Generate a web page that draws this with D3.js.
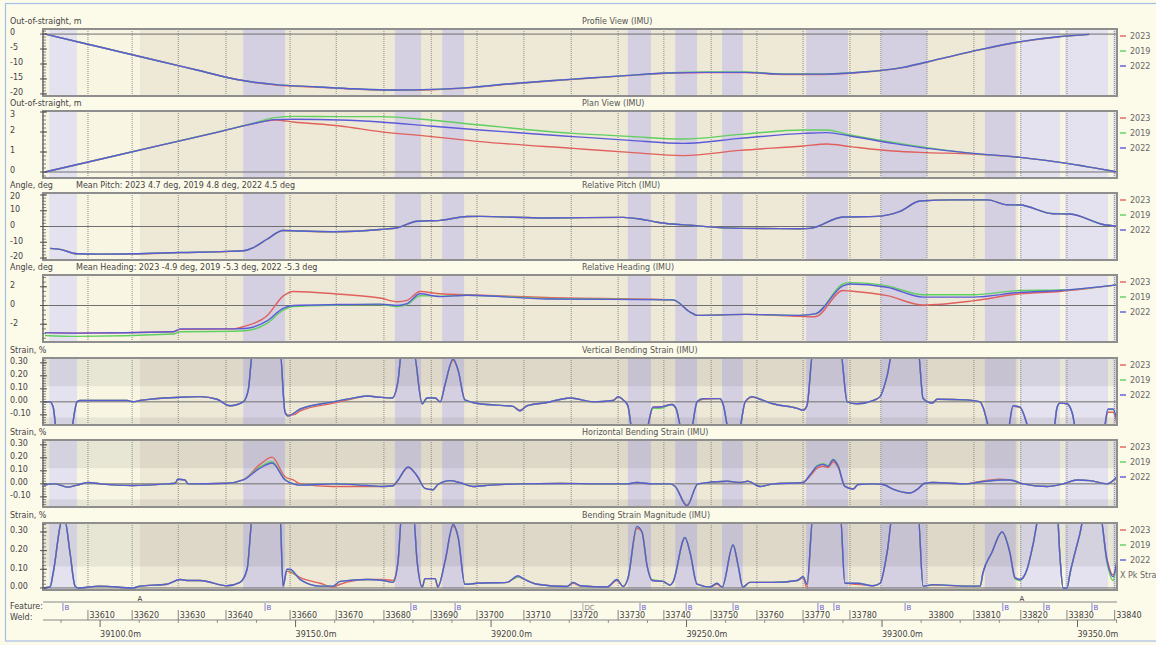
<!DOCTYPE html>
<html>
<head>
<meta charset="utf-8">
<script src="https://cdn.jsdelivr.net/npm/d3@7"></script>
<style>
  body { margin: 0; background: #fcfae9; }
  svg text { font-family: "DejaVu Sans", Verdana, sans-serif; }
</style>
</head>
<body>
<div id="chart"></div>
<script>
// ---- data (distances in m along the line) ----
const seriesNames = ["2023", "2019", "2022"];

const profileDist = [39086, 39095, 39105, 39115, 39125, 39135, 39140, 39145, 39155, 39165, 39175, 39185, 39195, 39205, 39215, 39225, 39235, 39245, 39255, 39265, 39275, 39285, 39295, 39305, 39315, 39325, 39335, 39345, 39353];
const profile2023 = [0, -2.8, -5.9, -9.0, -12.1, -15.2, -16.3, -17.0, -17.7, -18.4, -18.8, -18.6, -17.9, -16.7, -15.7, -14.8, -13.9, -13.1, -12.9, -12.9, -13.5, -13.5, -12.8, -11.3, -8.3, -5.3, -2.7, -1.0, -0.1];
const profile2019 = [0, -2.8, -5.9, -9.0, -12.1, -15.2, -16.2, -16.9, -17.6, -18.3, -18.7, -18.5, -17.8, -16.6, -15.6, -14.7, -13.8, -13.0, -12.7, -12.7, -13.3, -13.3, -12.7, -11.2, -8.2, -5.2, -2.6, -0.9, -0.1];
const profile2022 = [0, -2.8, -5.9, -9.0, -12.1, -15.2, -16.2, -16.9, -17.6, -18.3, -18.7, -18.5, -17.8, -16.6, -15.6, -14.7, -13.8, -13.0, -12.8, -12.8, -13.4, -13.4, -12.7, -11.2, -8.2, -5.2, -2.6, -0.9, -0.1];

const planDist = [39085.9, 39100, 39115.3, 39130.7, 39138.4, 39144.8, 39149.4, 39161.4, 39171.6, 39184.4, 39197.2, 39221.0, 39235.5, 39249.1, 39263.7, 39279.8, 39285.9, 39291.8, 39302.8, 39311.5, 39323.3, 39335.3, 39347.3, 39360.1];
const plan2023 = [0, 0.64, 1.33, 2.02, 2.38, 2.6, 2.5, 2.3, 2.02, 1.78, 1.52, 1.18, 0.98, 0.82, 1.08, 1.3, 1.4, 1.27, 1.05, 0.97, 0.9, 0.73, 0.43, 0];
const plan2019 = [0, 0.64, 1.33, 2.03, 2.4, 2.72, 2.78, 2.77, 2.77, 2.6, 2.35, 1.93, 1.78, 1.65, 1.88, 2.1, 2.1, 1.85, 1.48, 1.22, 0.93, 0.73, 0.43, 0];
const plan2022 = [0, 0.64, 1.33, 2.02, 2.38, 2.62, 2.64, 2.6, 2.5, 2.3, 2.1, 1.77, 1.58, 1.43, 1.68, 1.93, 1.97, 1.8, 1.43, 1.18, 0.93, 0.73, 0.43, 0];

const pitchDist = [39087.2, 39089.8, 39094.1, 39100, 39108.4, 39120.5, 39132.5, 39137.1, 39139.1, 39142.7, 39146.8, 39151.2, 39159.6, 39171.6, 39176.0, 39181.1, 39187.0, 39193.9, 39197.2, 39214.3, 39233.8, 39238.1, 39242.5, 39251.7, 39263.7, 39279.0, 39281.6, 39290.0, 39298.7, 39304.6, 39309.7, 39318.2, 39326.9, 39332.0, 39335.3, 39343.7, 39348.1, 39356.5, 39360.1];
const pitch2023 = [-13.9, -14.5, -17.3, -17.6, -17.4, -16.6, -15.9, -15.2, -13.5, -8.1, -2.5, -2.9, -3.4, -1.9, -0.8, 3.3, 3.9, 6.3, 6.4, 5.4, 5.8, 4.8, 2.7, 0.6, -1.2, -1.4, -1.2, 6.0, 6.4, 9.6, 16.2, 16.9, 16.9, 13.8, 13.6, 8.1, 7.9, 1.3, 0.2];
const pitch2019 = [-13.9, -14.5, -17.3, -17.5, -17.3, -16.5, -15.8, -15.2, -13.5, -8.1, -2.5, -2.9, -3.3, -1.9, -0.8, 3.3, 3.9, 6.3, 6.4, 5.4, 5.8, 4.8, 2.7, 0.6, -1.2, -1.4, -1.2, 6.0, 6.4, 9.6, 16.2, 16.9, 16.9, 13.8, 13.6, 8.2, 8.0, 1.3, 0.2];
const pitch2022 = [-13.9, -14.5, -17.3, -17.5, -17.3, -16.5, -15.8, -15.2, -13.5, -8.1, -2.5, -2.9, -3.3, -1.9, -0.8, 3.3, 3.9, 6.3, 6.4, 5.4, 5.8, 4.8, 2.7, 0.6, -1.2, -1.4, -1.2, 6.0, 6.4, 9.6, 16.2, 16.9, 16.9, 13.8, 13.6, 8.1, 7.9, 1.3, 0.2];

const headingDist = [39085.9, 39094.1, 39118.7, 39120.5, 39134.0, 39137.1, 39142.7, 39146.8, 39149.4, 39161.4, 39171.6, 39176.0, 39178.5, 39181.8, 39187.0, 39193.9, 39214.3, 39246.5, 39250.9, 39252.7, 39265.5, 39279.0, 39282.9, 39290.0, 39291.8, 39301.3, 39310.5, 39323.3, 39335.3, 39345.5, 39360.1];
const heading2023 = [-2.9, -2.95, -2.8, -2.55, -2.5, -2.2, -1.1, 1.0, 1.5, 1.2, 0.8, 0.4, 0.55, 1.5, 1.25, 1.15, 0.85, 0.6, -0.7, -1.05, -0.95, -1.15, -1.2, 1.6, 1.55, 1.05, 0.05, 0.5, 1.25, 1.5, 2.2];
const heading2019 = [-3.2, -3.3, -3.05, -2.8, -2.75, -2.7, -1.9, -0.5, -0.1, 0.05, 0.1, -0.1, 0.1, 1.05, 1.0, 1.1, 0.75, 0.62, -0.7, -1.05, -0.95, -1.05, -0.9, 2.3, 2.45, 2.1, 1.15, 1.15, 1.6, 1.65, 2.2];
const heading2022 = [-2.9, -2.95, -2.8, -2.5, -2.5, -2.45, -1.65, -0.3, 0, 0.1, 0.15, 0, 0.2, 1.25, 0.95, 1.1, 0.7, 0.6, -0.7, -1.05, -0.95, -1.05, -0.9, 2.1, 2.3, 1.95, 0.9, 0.9, 1.4, 1.6, 2.2];

const vertDist = [39085.4, 39087.2, 39088.0, 39089.0, 39092.3, 39094.1, 39094.9, 39106.9, 39108.4, 39110.2,
  39120.5, 39125.6, 39129.9, 39133.2, 39136.6, 39137.9, 39139.1, 39146.0, 39147.3, 39148.1,
  39149.4, 39151.2, 39159.6, 39164.0, 39168.3, 39171.6, 39174.7, 39176.2, 39177.2, 39180.1,
  39182.4, 39183.6, 39185.7, 39187.0, 39188.2, 39190.3, 39191.6, 39193.3, 39197.2, 39205.6,
  39207.4, 39209.2, 39214.3, 39220.2, 39226.1, 39231.2, 39232.5, 39233.8, 39235.0, 39236.3,
  39239.4, 39241.4, 39243.2, 39246.3, 39247.3, 39249.1, 39250.9, 39252.7, 39254.2, 39258.6,
  39259.3, 39261.1, 39263.2, 39265.0, 39266.8, 39268.8, 39272.1, 39278.3, 39279.8, 39280.8,
  39282.4, 39289.3, 39291.1, 39293.6, 39297.7, 39299.5, 39301.3, 39302.8, 39309.2, 39310.5,
  39312.8, 39314.1, 39321.7, 39325.1, 39325.8, 39328.1, 39332.0, 39333.5, 39335.3, 39338.4,
  39343.7, 39344.8, 39345.5, 39347.3, 39348.6, 39349.9, 39356.5, 39357.8, 39359.1, 39360.1];
const vert2023 = [0, 0, -0.04, -0.25, -0.25, 0, 0.01, 0.01, 0, 0.01,
  0.035, 0.04, 0.02, -0.03, 0, 0.09, 0.4, 0.4, -0.08, -0.1,
  -0.1, -0.07, -0.01, 0.02, 0.045, 0.035, 0.03, 0.16, 0.4, 0.4,
  -0.015, 0.03, 0.03, 0, 0.13, 0.32, 0.24, 0.015, -0.015, -0.035,
  -0.065, -0.03, -0.005, 0.03, 0, 0.01, 0.035, 0.015, -0.03, -0.25,
  -0.25, -0.045, -0.04, -0.02, -0.05, -0.25, -0.25, 0, 0.02, 0.025,
  -0.015, -0.25, -0.25, 0, 0.035, 0.02, -0.015, -0.05, -0.065, -0.03,
  0.4, 0.4, 0, -0.015, 0.01, 0.04, 0.2, 0.4, 0.4, 0.025,
  -0.01, 0.02, 0.015, 0, -0.04, -0.25, -0.25, -0.035, -0.045, -0.25,
  -0.25, -0.04, -0.01, -0.015, -0.08, -0.25, -0.25, -0.08, -0.08, -0.17];
const vert2019 = [0, 0, -0.04, -0.25, -0.25, 0, 0.01, 0.01, 0, 0.01,
  0.035, 0.04, 0.02, -0.03, 0, 0.09, 0.4, 0.4, -0.08, -0.11,
  -0.09, -0.055, 0, 0.025, 0.045, 0.035, 0.03, 0.16, 0.4, 0.4,
  -0.015, 0.03, 0.03, 0, 0.13, 0.33, 0.24, 0.015, -0.015, -0.035,
  -0.07, -0.03, -0.005, 0.03, 0, 0.01, 0.04, 0.015, -0.03, -0.25,
  -0.25, -0.05, -0.05, -0.02, -0.05, -0.25, -0.25, 0, 0.025, 0.025,
  -0.015, -0.25, -0.25, 0, 0.04, 0.02, -0.015, -0.05, -0.065, -0.03,
  0.4, 0.4, 0, -0.015, 0.01, 0.04, 0.2, 0.4, 0.4, 0.03,
  -0.01, 0.02, 0.015, 0, -0.04, -0.25, -0.25, -0.03, -0.04, -0.25,
  -0.25, -0.04, -0.01, -0.015, -0.08, -0.25, -0.25, -0.06, -0.06, -0.15];
const vert2022 = [0, 0, -0.04, -0.25, -0.25, 0, 0.01, 0.01, 0, 0.01,
  0.035, 0.04, 0.02, -0.03, 0, 0.09, 0.4, 0.4, -0.08, -0.11,
  -0.09, -0.055, 0, 0.025, 0.045, 0.035, 0.03, 0.16, 0.4, 0.4,
  -0.015, 0.03, 0.03, 0, 0.13, 0.33, 0.24, 0.015, -0.015, -0.035,
  -0.07, -0.03, -0.005, 0.03, 0, 0.01, 0.04, 0.015, -0.03, -0.25,
  -0.25, -0.04, -0.04, -0.02, -0.05, -0.25, -0.25, 0, 0.025, 0.025,
  -0.015, -0.25, -0.25, 0, 0.04, 0.02, -0.015, -0.05, -0.065, -0.03,
  0.4, 0.4, 0, -0.015, 0.01, 0.04, 0.2, 0.4, 0.4, 0.025,
  -0.01, 0.02, 0.015, 0, -0.04, -0.25, -0.25, -0.03, -0.04, -0.25,
  -0.25, -0.04, -0.01, -0.015, -0.08, -0.25, -0.25, -0.055, -0.055, -0.15];

const horizDist = [39085.4, 39088.5, 39091.6, 39094.1, 39096.9, 39100.0, 39108.4, 39117.1, 39119.2, 39119.9,
  39121.7, 39122.5, 39132.5, 39136.6, 39140.9, 39144.0, 39147.3, 39149.4, 39151.2, 39159.6,
  39168.3, 39172.4, 39174.9, 39176.0, 39178.8, 39181.1, 39183.1, 39185.2, 39186.4, 39189.5,
  39192.1, 39195.4, 39199.7, 39207.4, 39217.6, 39227.9, 39234.8, 39237.3, 39241.4, 39245.8,
  39247.1, 39250.1, 39252.9, 39260.4, 39263.7, 39265.7, 39268.8, 39272.1, 39279.8, 39281.6,
  39283.4, 39284.9, 39286.2, 39287.5, 39288.8, 39290.5, 39292.6, 39293.9, 39297.7, 39300.3,
  39302.8, 39307.2, 39308.9, 39311.0, 39313.0, 39321.7, 39324.3, 39330.2, 39332.7, 39336.1,
  39342.2, 39346.3, 39349.9, 39353.2, 39357.5, 39360.1];
const horiz2023 = [-0.01, 0, -0.025, -0.01, 0.01, 0, -0.013, 0, 0.005, 0.035,
  0.03, 0, 0.005, 0.03, 0.15, 0.205, 0.055, 0.03, 0, -0.02,
  -0.02, -0.02, -0.015, 0.02, 0.125, 0.06, -0.035, -0.045, -0.005, 0.025,
  0.008, -0.02, -0.01, 0, 0.003, 0, 0, 0.01, 0, 0,
  -0.02, -0.165, 0, 0.02, 0.01, 0.02, -0.02, 0, 0.01, 0.06,
  0.12, 0.135, 0.125, 0.17, 0.125, -0.02, -0.04, -0.005, 0, -0.005,
  -0.04, -0.07, -0.045, 0.005, 0.01, 0, 0.015, 0.035, 0.03, 0,
  -0.02, 0, 0.03, 0.025, 0, 0.045];
const horiz2019 = [-0.01, 0, -0.025, -0.01, 0.01, 0, -0.013, 0, 0.005, 0.035,
  0.03, 0, 0.005, 0.03, 0.13, 0.17, 0.035, 0, -0.01, 0,
  -0.013, -0.02, -0.015, 0.02, 0.13, 0.06, -0.035, -0.045, -0.005, 0.025,
  0.008, -0.02, -0.01, 0, 0.003, 0, 0, 0.01, 0, 0,
  -0.02, -0.17, 0, 0.02, 0.01, 0.02, -0.02, 0, 0.01, 0.07,
  0.14, 0.155, 0.14, 0.19, 0.14, -0.02, -0.04, -0.005, 0, -0.005,
  -0.04, -0.07, -0.045, 0.005, 0.01, 0, 0.01, 0.03, 0.03, 0,
  -0.02, 0, 0.03, 0.025, 0, 0.05];
const horiz2022 = [-0.01, 0, -0.025, -0.01, 0.01, 0, -0.013, 0, 0.005, 0.035,
  0.03, 0, 0.005, 0.03, 0.12, 0.16, 0.03, 0, -0.01, 0,
  -0.013, -0.02, -0.015, 0.02, 0.13, 0.06, -0.035, -0.045, -0.005, 0.025,
  0.008, -0.02, -0.01, 0, 0.003, 0, 0, 0.01, 0, 0,
  -0.02, -0.17, 0, 0.02, 0.01, 0.02, -0.02, 0, 0.01, 0.07,
  0.135, 0.15, 0.135, 0.185, 0.135, -0.02, -0.04, -0.005, 0, -0.005,
  -0.04, -0.07, -0.045, 0.005, 0.01, 0, 0.01, 0.03, 0.03, 0,
  -0.02, 0, 0.03, 0.025, 0, 0.055];

const magDist = [39085.4, 39087.2, 39088.0, 39090.3, 39091.0, 39092.3, 39093.6, 39094.4, 39100.0, 39108.4,
  39110.2, 39117.1, 39120.5, 39122.2, 39125.6, 39132.5, 39135.8, 39137.6, 39139.1, 39146.0,
  39146.8, 39147.8, 39148.6, 39151.2, 39156.3, 39159.6, 39161.4, 39168.3, 39172.4, 39174.9,
  39176.2, 39177.2, 39180.1, 39181.1, 39182.4, 39183.1, 39185.7, 39186.4, 39188.2, 39190.3,
  39191.6, 39193.3, 39196.4, 39204.1, 39206.9, 39208.2, 39211.8, 39219.4, 39221.0, 39222.8,
  39229.7, 39232.2, 39233.8, 39235.0, 39237.3, 39238.6, 39239.9, 39241.2, 39244.0, 39245.8,
  39246.5, 39249.6, 39250.9, 39252.7, 39256.0, 39257.8, 39259.1, 39261.9, 39263.2, 39264.4,
  39266.2, 39272.1, 39278.3, 39279.8, 39280.8, 39282.4, 39289.3, 39290.5, 39293.6, 39297.7,
  39299.5, 39301.3, 39302.8, 39309.2, 39310.5, 39313.0, 39321.7, 39325.1, 39325.8, 39328.1,
  39330.7, 39332.7, 39334.0, 39335.3, 39337.1, 39338.6, 39340.4, 39344.8, 39345.5, 39346.3,
  39347.3, 39348.1, 39350.6, 39351.9, 39355.7, 39357.5, 39359.1, 39360.1];
const mag2023 = [0, 0.005, 0.08, 0.36, 0.36, 0.19, 0.01, 0, 0.01, 0,
  0.01, 0.02, 0.045, 0.04, 0.04, 0.012, 0.03, 0.1, 0.4, 0.4,
  0.01, 0.09, 0.085, 0.055, 0.025, 0.005, 0.02, 0.045, 0.045, 0.04,
  0.14, 0.4, 0.4, 0.14, 0.005, 0.05, 0.05, 0.005, 0.14, 0.33,
  0.27, 0.02, 0.025, 0.03, 0.06, 0.05, 0.02, 0.008, 0.025, 0.012,
  0.005, 0.04, 0.008, 0.05, 0.32, 0.3, 0.12, 0.04, 0.035, 0.015,
  0.03, 0.27, 0.19, 0.02, 0.005, 0.02, 0.005, 0.23, 0.12, 0.005,
  0.03, 0.03, 0.04, 0.055, 0.0, 0.4, 0.4, 0.025, 0.02, 0.012,
  0.025, 0.19, 0.4, 0.4, 0.01, 0.015, 0.01, 0.01, 0.08, 0.19,
  0.3, 0.19, 0.055, 0.045, 0.1, 0.23, 0.4, 0.4, 0.17, 0,
  0, 0.08, 0.29, 0.4, 0.4, 0.16, 0.07, 0.14];
const mag2019 = [0, 0.005, 0.08, 0.36, 0.36, 0.19, 0.01, 0, 0.01, 0,
  0.01, 0.02, 0.045, 0.04, 0.04, 0.012, 0.03, 0.1, 0.4, 0.4,
  0.01, 0.1, 0.095, 0.045, 0.01, 0.01, 0.035, 0.045, 0.04, 0.03,
  0.14, 0.4, 0.4, 0.14, 0.005, 0.05, 0.05, 0.005, 0.14, 0.34,
  0.27, 0.02, 0.025, 0.03, 0.06, 0.05, 0.02, 0.008, 0.03, 0.012,
  0.005, 0.045, 0.008, 0.05, 0.33, 0.3, 0.12, 0.045, 0.035, 0.015,
  0.03, 0.27, 0.19, 0.02, 0.005, 0.025, 0.005, 0.23, 0.12, 0.005,
  0.03, 0.03, 0.04, 0.06, 0.02, 0.4, 0.4, 0.025, 0.025, 0.012,
  0.025, 0.19, 0.4, 0.4, 0.01, 0.018, 0.01, 0.01, 0.08, 0.19,
  0.3, 0.19, 0.05, 0.04, 0.1, 0.23, 0.4, 0.4, 0.17, 0,
  0, 0.08, 0.29, 0.4, 0.4, 0.14, 0.04, 0.15];
const mag2022 = [0, 0.005, 0.08, 0.36, 0.36, 0.19, 0.01, 0, 0.01, 0,
  0.01, 0.02, 0.045, 0.04, 0.04, 0.012, 0.03, 0.1, 0.4, 0.4,
  0.01, 0.1, 0.1, 0.045, 0.01, 0.01, 0.035, 0.045, 0.04, 0.03,
  0.14, 0.4, 0.4, 0.14, 0.005, 0.05, 0.05, 0.005, 0.14, 0.34,
  0.27, 0.02, 0.025, 0.03, 0.065, 0.05, 0.02, 0.008, 0.03, 0.012,
  0.005, 0.045, 0.008, 0.05, 0.33, 0.3, 0.12, 0.04, 0.035, 0.015,
  0.03, 0.27, 0.19, 0.02, 0.005, 0.025, 0.005, 0.23, 0.12, 0.005,
  0.03, 0.03, 0.04, 0.06, 0.02, 0.4, 0.4, 0.025, 0.025, 0.012,
  0.025, 0.19, 0.4, 0.4, 0.01, 0.018, 0.01, 0.01, 0.08, 0.19,
  0.3, 0.19, 0.055, 0.045, 0.1, 0.23, 0.4, 0.4, 0.17, 0,
  0, 0.08, 0.29, 0.4, 0.4, 0.15, 0.06, 0.15];

// shaded zones along the line
const baseZones = [[39085.4, 39110.2, "pale"], [39110.2, 39334.8, "tan"], [39334.8, 39360.1, "pale"]];
const lightBands = [[39087.0, 39094.1], [39335.3, 39345.5], [39346.8, 39357.8], [39359.1, 39360.1]];
const bendBands = [[39136.6, 39147.3], [39175.4, 39182.1], [39187.5, 39193.1], [39235.0, 39240.9], [39247.1, 39252.7],
  [39259.1, 39264.4], [39280.6, 39291.3], [39299.7, 39311.5], [39326.3, 39334.2]];

// weld / feature axis
const weldNumbers = [33610, 33620, 33630, 33640, 33660, 33670, 33680, 33690, 33700, 33710, 33720, 33730, 33740, 33750, 33760, 33770, 33780, 33790, 33800, 33810, 33820, 33830, 33840];
const weldDist = [39096.9, 39108.2, 39120.0, 39132.2, 39148.6, 39160.4, 39172.6, 39184.7, 39196.4, 39208.4, 39220.5, 39232.5, 39244.2, 39256.3, 39268.0, 39279.8, 39291.8, 39299.7, 39311.5, 39323.5, 39335.5, 39347.3, 39359.5];
const hiddenWelds = [33790];
const featureB = [39090.5, 39142.2, 39179.5, 39190.8, 39238.1, 39249.9, 39261.9, 39283.6, 39287.7, 39305.9, 39330.9, 39341.4, 39353.7];
const featureA = [39110.2, 39335.8];
const featureDC = [39223.5];
const distMajor = [39100, 39150, 39200, 39250, 39300, 39350];

// ---- layout ----
const W = 1156, H = 645;
const plotLeft = 43, plotRight = 1117, panelH = 67;
const panelTops = [29, 111, 193, 275, 358, 440, 523];
const colors = ["#e0605c", "#5fcf5f", "#5b5bd8"];
const zoneFill = { pale: "#f8f6e3", tan: "#eee8d7" };
const intFmt = d => String(d);
const strainFmt = d => d.toFixed(2);

const panels = [
  { yLabel: "Out-of-straight, m", title: "Profile View (IMU)", note: "", domain: [-20.7, 1.7], major: [0, -5, -10, -15, -20], minor: 1, fmt: intFmt, zero: true, dist: profileDist, series: [profile2023, profile2019, profile2022] },
  { yLabel: "Out-of-straight, m", title: "Plan View (IMU)", note: "", domain: [-0.3, 3.05], major: [0, 1, 2, 3], minor: 0.2, fmt: intFmt, zero: true, dist: planDist, series: [plan2023, plan2019, plan2022] },
  { yLabel: "Angle, deg", title: "Relative Pitch (IMU)", note: "Mean Pitch: 2023 4.7 deg, 2019 4.8 deg, 2022 4.5 deg", domain: [-21.25, 21.25], major: [20, 10, 0, -10, -20], minor: 2, fmt: intFmt, zero: true, dist: pitchDist, series: [pitch2023, pitch2019, pitch2022] },
  { yLabel: "Angle, deg", title: "Relative Heading (IMU)", note: "Mean Heading: 2023 -4.9 deg, 2019 -5.3 deg, 2022 -5.3 deg", domain: [-3.9, 3.26], major: [2, 0, -2], minor: 0.5, fmt: intFmt, zero: true, dist: headingDist, series: [heading2023, heading2019, heading2022] },
  { yLabel: "Strain, %", title: "Vertical Bending Strain (IMU)", note: "", domain: [-0.178, 0.337], major: [0.3, 0.2, 0.1, 0, -0.1], minor: 0.02, fmt: strainFmt, zero: true, thr: 0.12, dist: vertDist, series: [vert2023, vert2019, vert2022] },
  { yLabel: "Strain, %", title: "Horizontal Bending Strain (IMU)", note: "", domain: [-0.178, 0.337], major: [0.3, 0.2, 0.1, 0, -0.1], minor: 0.02, fmt: strainFmt, zero: true, thr: 0.12, dist: horizDist, series: [horiz2023, horiz2019, horiz2022] },
  { yLabel: "Strain, %", title: "Bending Strain Magnitude (IMU)", note: "", domain: [-0.011, 0.348], major: [0.3, 0.2, 0.1, 0], minor: 0.02, fmt: strainFmt, zero: true, thr: 0.115, dist: magDist, series: [mag2023, mag2019, mag2022], extraLegend: "X Pk Strain" }
];

const svg = d3.select("#chart").append("svg").attr("width", W).attr("height", H);
svg.append("rect").attr("width", W).attr("height", H).attr("fill", "#fcfae9");
svg.append("rect").attr("x", 5.5).attr("y", 3.5).attr("width", 1170).attr("height", 637.5)
  .attr("fill", "none").attr("stroke", "#a6bfe6").attr("stroke-width", 1.2);

const x = d3.scaleLinear().domain([39085.4, 39360.1]).range([plotLeft, plotRight]);
const defs = svg.append("defs");

panels.forEach((p, i) => {
  const top = panelTops[i];
  const bottom = top + panelH;
  const y = d3.scaleLinear().domain(p.domain).range([bottom, top]);
  const g = svg.append("g");

  defs.append("clipPath").attr("id", "clip" + i).append("rect")
    .attr("x", plotLeft).attr("y", top).attr("width", plotRight - plotLeft).attr("height", panelH);

  // background zones
  g.selectAll(".zone").data(baseZones).join("rect")
    .attr("x", d => x(d[0])).attr("width", d => x(d[1]) - x(d[0]))
    .attr("y", top).attr("height", panelH).attr("fill", d => zoneFill[d[2]]);
  g.selectAll(".lband").data(lightBands).join("rect")
    .attr("x", d => x(d[0])).attr("width", d => x(d[1]) - x(d[0]))
    .attr("y", top).attr("height", panelH).attr("fill", "#e3e2ee");
  g.selectAll(".bband").data(bendBands).join("rect")
    .attr("x", d => x(d[0])).attr("width", d => x(d[1]) - x(d[0]))
    .attr("y", top).attr("height", panelH).attr("fill", "#d5d0e1");

  // strain threshold shading
  if (p.thr) {
    g.append("rect").attr("x", plotLeft).attr("width", plotRight - plotLeft)
      .attr("y", top).attr("height", y(p.thr) - top).attr("fill", "rgba(0,0,0,0.065)");
    if (-p.thr > p.domain[0]) {
      g.append("rect").attr("x", plotLeft).attr("width", plotRight - plotLeft)
        .attr("y", y(-p.thr)).attr("height", bottom - y(-p.thr)).attr("fill", "rgba(0,0,0,0.065)");
    }
  }

  // weld grid
  g.selectAll(".grid").data(weldDist).join("line")
    .attr("x1", d => x(d)).attr("x2", d => x(d)).attr("y1", top).attr("y2", bottom)
    .attr("stroke", "#8c8c8c").attr("stroke-width", 1).attr("stroke-dasharray", "1,1");

  if (p.zero) {
    g.append("line").attr("x1", plotLeft).attr("x2", plotRight).attr("y1", y(0)).attr("y2", y(0))
      .attr("stroke", "#6f6f6f").attr("stroke-width", 1);
  }

  // series
  const line = d3.line().x(d => x(d[0])).y(d => y(d[1])).curve(d3.curveMonotoneX);
  const lg = g.append("g").attr("clip-path", `url(#clip${i})`);
  p.series.forEach((vals, k) => {
    const pts = p.dist.map((d, j) => [d, vals[j]]).filter(d => d[1] !== undefined);
    lg.append("path").datum(pts).attr("d", line)
      .attr("fill", "none").attr("stroke", colors[k]).attr("stroke-width", 1.4)
      .attr("stroke-linejoin", "round");
  });

  // frame
  g.append("rect").attr("x", plotLeft).attr("y", top).attr("width", plotRight - plotLeft).attr("height", panelH)
    .attr("fill", "none").attr("stroke", "#8e8e8e").attr("stroke-width", 2);

  // y ticks
  const minorTicks = d3.range(Math.ceil(p.domain[0] / p.minor) * p.minor, p.domain[1], p.minor);
  g.selectAll(".minor").data(minorTicks).join("line")
    .attr("x1", plotLeft - 1).attr("x2", plotLeft + 3).attr("y1", d => y(d)).attr("y2", d => y(d))
    .attr("stroke", "#666").attr("stroke-width", 0.8);
  g.selectAll(".major").data(p.major).join("line")
    .attr("x1", plotLeft - 3).attr("x2", plotLeft + 4).attr("y1", d => y(d)).attr("y2", d => y(d))
    .attr("stroke", "#555").attr("stroke-width", 1);
  g.selectAll(".ylab").data(p.major).join("text")
    .attr("x", 10).attr("y", d => Math.max(y(d) - 1.5, top + 3)).attr("dy", "0.35em")
    .attr("font-size", 8).attr("fill", "#444").text(p.fmt);

  // labels
  g.append("text").attr("x", 10).attr("y", top - 5).attr("font-size", 8).attr("fill", "#444").text(p.yLabel);
  g.append("text").attr("x", 582).attr("y", top - 5).attr("font-size", 8).attr("fill", "#555").text(p.title);
  if (p.note) g.append("text").attr("x", 76).attr("y", top - 5).attr("font-size", 8).attr("fill", "#444").text(p.note);

  // legend
  seriesNames.forEach((name, k) => {
    const ly = top + 7 + k * 15;
    g.append("line").attr("x1", 1120).attr("x2", 1126).attr("y1", ly).attr("y2", ly)
      .attr("stroke", colors[k]).attr("stroke-width", 1.4);
    g.append("text").attr("x", 1130).attr("y", ly).attr("dy", "0.35em")
      .attr("font-size", 8).attr("fill", "#666").text(name);
  });
  if (p.extraLegend) {
    g.append("text").attr("x", 1120).attr("y", top + 52).attr("dy", "0.35em")
      .attr("font-size", 8).attr("fill", "#666").text(p.extraLegend);
  }
});

// ---- feature / weld / distance axis ----
const axg = svg.append("g");
const featY = 602, weldY = 620;
axg.append("text").attr("x", 10).attr("y", 609).attr("font-size", 8).attr("fill", "#444").text("Feature:");
axg.append("text").attr("x", 10).attr("y", 620).attr("font-size", 8).attr("fill", "#444").text("Weld:");
axg.append("line").attr("x1", plotLeft).attr("x2", plotRight).attr("y1", featY).attr("y2", featY)
  .attr("stroke", "#888").attr("stroke-width", 1);
axg.append("line").attr("x1", plotLeft).attr("x2", plotRight).attr("y1", weldY).attr("y2", weldY)
  .attr("stroke", "#888").attr("stroke-width", 1);

axg.selectAll(".fb").data(featureB).join("g").each(function (d) {
  const s = d3.select(this);
  s.append("line").attr("x1", x(d)).attr("x2", x(d)).attr("y1", 603).attr("y2", 611)
    .attr("stroke", "#6a6ad4").attr("stroke-width", 0.8);
  s.append("text").attr("x", x(d) + 1.5).attr("y", 610).attr("font-size", 7).attr("fill", "#5f5fd0").text("B");
});
axg.selectAll(".fdc").data(featureDC).join("g").each(function (d) {
  const s = d3.select(this);
  s.append("line").attr("x1", x(d)).attr("x2", x(d)).attr("y1", 603).attr("y2", 611)
    .attr("stroke", "#999").attr("stroke-width", 0.8);
  s.append("text").attr("x", x(d) + 1.5).attr("y", 610).attr("font-size", 7).attr("fill", "#888").text("DC");
});
axg.selectAll(".fa").data(featureA).join("text")
  .attr("x", d => x(d)).attr("y", 600.5).attr("text-anchor", "middle")
  .attr("font-size", 7).attr("fill", "#333").text("A");

const welds = weldNumbers.map((n, j) => ({ n, d: weldDist[j] })).filter(w => !hiddenWelds.includes(w.n));
axg.selectAll(".weld").data(welds).join("g").each(function (w) {
  const s = d3.select(this);
  if (w.n !== 33800) {
    s.append("line").attr("x1", x(w.d)).attr("x2", x(w.d)).attr("y1", 610).attr("y2", weldY)
      .attr("stroke", "#666").attr("stroke-width", 0.8);
  }
  s.append("text").attr("x", x(w.d) + 1.5).attr("y", 618).attr("font-size", 8).attr("fill", "#444").text(w.n);
});

// distance ticks
const distMinor = d3.range(39090, 39361, 10).filter(d => !distMajor.includes(d));
axg.selectAll(".dmin").data(distMinor).join("line")
  .attr("x1", d => x(d)).attr("x2", d => x(d)).attr("y1", weldY).attr("y2", weldY + 3)
  .attr("stroke", "#777").attr("stroke-width", 0.8);
axg.selectAll(".dmaj").data(distMajor).join("line")
  .attr("x1", d => x(d)).attr("x2", d => x(d)).attr("y1", weldY).attr("y2", weldY + 7)
  .attr("stroke", "#666").attr("stroke-width", 1);
axg.selectAll(".dlab").data(distMajor).join("text")
  .attr("x", d => x(d)).attr("y", 637).attr("font-size", 8).attr("fill", "#444")
  .text(d => d.toFixed(1) + "m");
</script>
</body>
</html>
